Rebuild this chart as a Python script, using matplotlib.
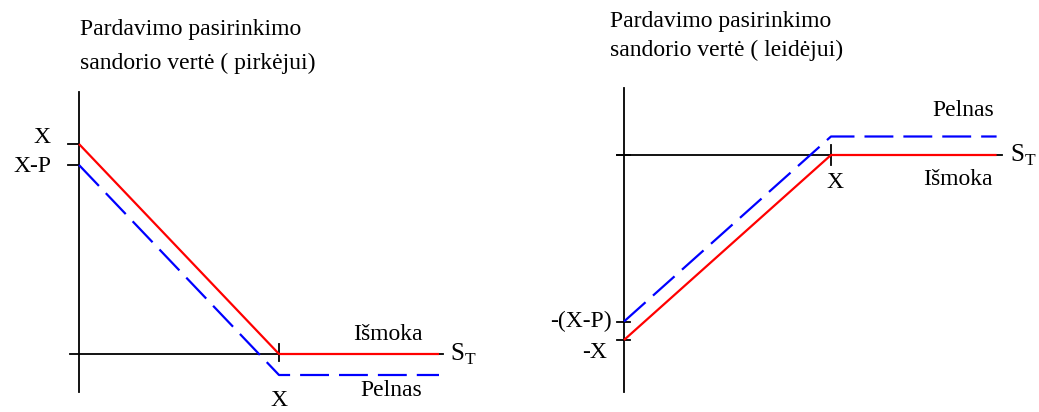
import matplotlib
matplotlib.use("Agg")
import matplotlib.pyplot as plt

plt.rcParams['font.family'] = ['Liberation Serif', 'DejaVu Serif']

# Strike and premium of the put option (schematic units)
strike = 10.0
premium = 1.0

# Underlying price at expiry: origin, strike, right end of the plot
s_points = [0.0, 10.0, 18.0]

# Buyer (pirkėjas): payoff and profit
buyer_payoff = [10.0, 0.0, 0.0]
buyer_profit = [9.0, -1.0, -1.0]

# Writer (leidėjas): payoff and profit
writer_payoff = [-10.0, 0.0, 0.0]
writer_profit = [-9.0, 1.0, 1.0]

W, H = 1039, 412
fig = plt.figure(figsize=(W / 100, H / 100), dpi=100)

RED = '#ff0000'
BLUE = '#0000ff'
FS = 17
LW = 1.6


def fx(px):
    return px / W


def fy(py):
    return 1 - py / H


# ---- Left panel: buyer ----
ax1 = fig.add_axes([0, 0, 0.5, 1])
ax1.set_xlim(-79 / 20, (0.5 * W - 79) / 20)
ax1.set_ylim(-(H - 354) / 21, 354 / 21)
ax1.axis('off')

# coordinate axes
ax1.plot([0, 0], [-1.81, 12.48], color='black', lw=1.3)
ax1.plot([-0.45, 18.2], [0, 0], color='black', lw=1.3)
ax1.plot([strike, strike], [-0.33, 0.48], color='black', lw=1.3)
for yv in (strike, strike - premium):
    ax1.plot([-0.55, 0], [yv, yv], color='black', lw=1.3)

ax1.plot(s_points, buyer_payoff, color=RED, lw=LW, solid_capstyle='butt')
ln, = ax1.plot(s_points, buyer_profit, color=BLUE, lw=LW)
ln.set_dashes((13, 4.5))

ax1.text(-1.45, strike + 0.3, 'X', ha='right', va='center', fontsize=FS)
ax1.text(-1.4, strike - premium - 0.05, 'X-P', ha='right', va='center', fontsize=FS)
ax1.text(13.7, 0.95, 'Išmoka', ha='left', va='center', fontsize=FS)
ax1.text(18.55, 0.0, r'S$_\mathregular{T}$', ha='left', va='center', fontsize=FS + 1)
ax1.text(14.05, -1.76, 'Pelnas', ha='left', va='center', fontsize=FS)
ax1.text(strike, -2.70, 'X', ha='center', va='bottom', fontsize=FS)

fig.text(fx(80), fy(29), 'Pardavimo pasirinkimo', ha='left', va='center', fontsize=FS)
fig.text(fx(80), fy(63), 'sandorio vertė ( pirkėjui)', ha='left', va='center', fontsize=FS)

# ---- Right panel: writer ----
ax2 = fig.add_axes([0.5, 0, 0.5, 1])
ax2.set_xlim((0.5 * W - 624) / 20.7, (W - 624) / 20.7)
ax2.set_ylim(-(H - 155) / 18.5, 155 / 18.5)
ax2.axis('off')

ax2.plot([0, 0], [-12.81, 3.62], color='black', lw=1.3)
ax2.plot([-0.34, 18.26], [0, 0], color='black', lw=1.3)
ax2.plot([strike, strike], [-0.54, 0.54], color='black', lw=1.3)
for yv in (0.0, -strike, -(strike - premium)):
    ax2.plot([-0.34, 0.29], [yv, yv], color='black', lw=1.3)

ax2.plot(s_points, writer_payoff, color=RED, lw=LW, solid_capstyle='butt')
ln2, = ax2.plot(s_points, writer_profit, color=BLUE, lw=LW)
ln2.set_dashes((13, 4.5))

ax2.text(14.88, 2.43, 'Pelnas', ha='left', va='center', fontsize=FS)
ax2.text(18.65, 0.0, r'S$_\mathregular{T}$', ha='left', va='center', fontsize=FS + 1)
ax2.text(strike + 0.2, -1.46, 'X', ha='center', va='center', fontsize=FS)
ax2.text(14.44, -1.35, 'Išmoka', ha='left', va='center', fontsize=FS)
ax2.text(-0.58, -(strike - premium), '-(X-P)', ha='right', va='center', fontsize=FS)
ax2.text(-0.82, -10.65, '-X', ha='right', va='center', fontsize=FS)

fig.text(fx(610), fy(21), 'Pardavimo pasirinkimo', ha='left', va='center', fontsize=FS)
fig.text(fx(610), fy(50), 'sandorio vertė ( leidėjui)', ha='left', va='center', fontsize=FS)

fig.savefig('out.png', dpi=100, facecolor='white')
